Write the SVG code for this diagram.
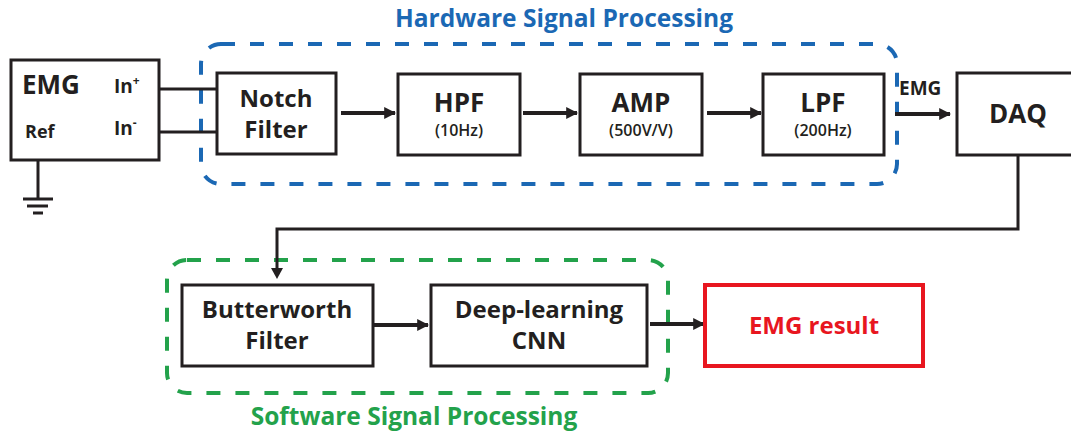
<svg xmlns="http://www.w3.org/2000/svg" width="1071" height="434" viewBox="0 0 1071 434">
  <defs>
    <marker id="arrow" viewBox="0 0 10 10" refX="9" refY="5" markerWidth="3" markerHeight="3" orient="auto" markerUnits="strokeWidth">
      <path d="M0,0 L10,5 L0,10 z" fill="#231f20"/>
    </marker>
    <style>
      text { font-family: "Open Sans", "Noto Sans", "Liberation Sans", sans-serif; font-weight: bold; fill: #231f20; }
      .box { fill: #ffffff; stroke: #231f20; stroke-width: 3; }
      .wire { fill: none; stroke: #231f20; stroke-width: 3; }
      .flow { fill: none; stroke: #231f20; stroke-width: 4; marker-end: url(#arrow); }
      .lbl { font-size: 24px; text-anchor: middle; }
      .big { font-size: 26px; text-anchor: middle; }
      .sub { font-size: 16px; font-weight: 600; text-anchor: middle; }
      .hw { fill: none; stroke: #1b68b4; stroke-width: 4; stroke-dasharray: 14 15; }
      .sw { fill: none; stroke: #23a24b; stroke-width: 4; stroke-dasharray: 14 15; }
    </style>
  </defs>

  <!-- processing stage outlines -->
  <g id="hardware-stage">
    <rect class="hw" x="201" y="44" width="696" height="140" rx="20" ry="20"/>
    <text x="564" y="27" style="font-size:24.5px; fill:#1b68b4; text-anchor:middle;">Hardware Signal Processing</text>
  </g>
  <g id="software-stage">
    <rect class="sw" x="167" y="260" width="501" height="133" rx="20" ry="20"/>
    <text x="414" y="425" style="font-size:24.5px; fill:#23a24b; text-anchor:middle;">Software Signal Processing</text>
  </g>

  <!-- connectors -->
  <g id="connectors">
    <line class="wire" x1="147" y1="89" x2="218" y2="89"/>
    <line class="wire" x1="147" y1="132" x2="218" y2="132"/>
    <line class="wire" x1="38" y1="147" x2="38" y2="199"/>
    <line class="wire" x1="23" y1="199" x2="53" y2="199"/>
    <line class="wire" x1="27" y1="206" x2="48" y2="206"/>
    <line class="wire" x1="33" y1="213" x2="43" y2="213"/>
    <line class="flow" x1="341" y1="113" x2="395" y2="113"/>
    <line class="flow" x1="523" y1="113" x2="577" y2="113"/>
    <line class="flow" x1="707" y1="113" x2="761" y2="113"/>
    <line class="flow" x1="895" y1="114" x2="950" y2="114"/>
    <text x="899" y="95" style="font-size:19px;">EMG</text>
    <polyline class="wire" points="1018,155 1018,229 277,229 277,270"/>
    <path d="M271,268 L283,268 L277,279 z" fill="#231f20"/>
    <line class="flow" x1="373" y1="325" x2="428" y2="325"/>
    <line class="flow" x1="650" y1="324" x2="704" y2="324"/>
  </g>

  <!-- nodes -->
  <g id="emg-sensor">
    <rect class="box" x="11" y="60" width="148" height="100"/>
    <text x="22" y="94" style="font-size:26px;">EMG</text>
    <text x="114" y="93" style="font-size:19px;">In<tspan dy="-8" style="font-size:12px;">+</tspan></text>
    <text x="114" y="135" style="font-size:19px;">In<tspan dy="-8" style="font-size:12px;">-</tspan></text>
    <text x="25" y="138" style="font-size:18px;">Ref</text>
  </g>
  <g id="notch-filter">
    <rect class="box" x="217" y="73" width="119" height="81"/>
    <text class="lbl" x="276" y="107">Notch</text>
    <text class="lbl" x="276" y="138">Filter</text>
  </g>
  <g id="hpf">
    <rect class="box" x="398" y="74" width="122" height="81"/>
    <text class="big" x="459" y="112">HPF</text>
    <text class="sub" x="459" y="136">(10Hz)</text>
  </g>
  <g id="amp">
    <rect class="box" x="580" y="74" width="122" height="81"/>
    <text class="big" x="641" y="112">AMP</text>
    <text class="sub" x="641" y="136">(500V/V)</text>
  </g>
  <g id="lpf">
    <rect class="box" x="763" y="74" width="121" height="81"/>
    <text class="big" x="823" y="112">LPF</text>
    <text class="sub" x="823" y="136">(200Hz)</text>
  </g>
  <g id="daq">
    <rect class="box" x="957" y="73" width="130" height="82"/>
    <text class="big" x="1018" y="123">DAQ</text>
  </g>
  <g id="butterworth-filter">
    <rect class="box" x="182" y="285" width="191" height="81"/>
    <text class="lbl" x="277" y="318">Butterworth</text>
    <text class="lbl" x="277" y="349">Filter</text>
  </g>
  <g id="cnn">
    <rect class="box" x="431" y="285" width="216" height="81"/>
    <text class="lbl" x="539" y="318">Deep-learning</text>
    <text class="lbl" x="539" y="349">CNN</text>
  </g>
  <g id="emg-result">
    <rect x="705" y="285" width="218" height="81" fill="#ffffff" stroke="#e8161f" stroke-width="4"/>
    <text class="lbl" x="814" y="334" style="fill:#e8161f;">EMG result</text>
  </g>
</svg>
